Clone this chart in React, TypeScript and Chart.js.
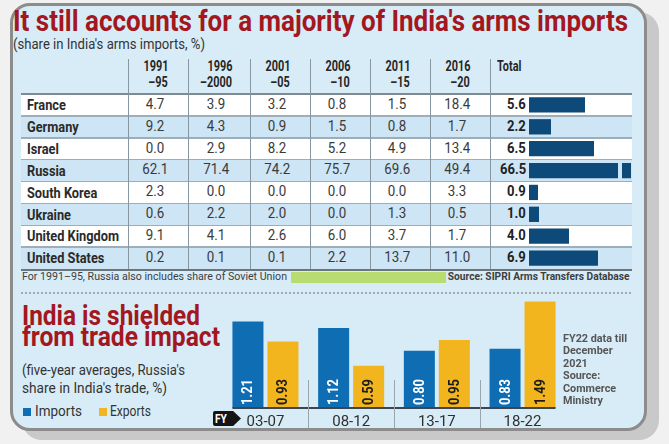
import React, { useEffect, useRef } from 'react';
import { Chart, registerables } from 'chart.js';
Chart.register(...registerables);

// ---------- DATA ----------
const title = "It still accounts for a majority of India's arms imports";
const subtitle = "(share in India's arms imports, %)";
const periodTop = ['1991', '1996', '2001', '2006', '2011', '2016'];
const periodBottom = ['–95', '–2000', '–05', '–10', '–15', '–20'];
const totalLabel = 'Total';
const countries = ['France', 'Germany', 'Israel', 'Russia', 'South Korea', 'Ukraine', 'United Kingdom', 'United States'];
const p1991 = [4.7, 9.2, 0.0, 62.1, 2.3, 0.6, 9.1, 0.2];
const p1996 = [3.9, 4.3, 2.9, 71.4, 0.0, 2.2, 4.1, 0.1];
const p2001 = [3.2, 0.9, 8.2, 74.2, 0.0, 2.0, 2.6, 0.1];
const p2006 = [0.8, 1.5, 5.2, 75.7, 0.0, 0.0, 6.0, 2.2];
const p2011 = [1.5, 0.8, 4.9, 69.6, 0.0, 1.3, 3.7, 13.7];
const p2016 = [18.4, 1.7, 13.4, 49.4, 3.3, 0.5, 1.7, 11.0];
const totals = [5.6, 2.2, 6.5, 66.5, 0.9, 1.0, 4.0, 6.9];
const footNote = 'For 1991–95, Russia also includes share of Soviet Union';
const source1 = 'Source: SIPRI Arms Transfers Database';

const title2 = ['India is shielded', 'from trade impact'];
const sub2 = ["(five-year averages, Russia's", "share in India's trade, %)"];
const fyPeriods = ['03-07', '08-12', '13-17', '18-22'];
const seriesNames = ['Imports', 'Exports'];
const imports = [1.21, 1.12, 0.80, 0.83];
const exportsV = [0.93, 0.59, 0.95, 1.49];
const note = ['FY22 data till', 'December', '2021', 'Source:', 'Commerce', 'Ministry'];

// ---------- STYLE ----------
const FAM = 'Roboto';
const RED = '#a3171f';
const CARD = '#d8ecf7';
const ALT = '#cde5f4';
const NAVY = '#0d4a7a';
const BLUE = '#0f6db3';
const YELLOW = '#f3b51d';

const mcv = typeof document !== 'undefined' ? document.createElement('canvas').getContext('2d') : null;
function mw(t: string, font: string) {
  if (!mcv) return t.length * 7;
  mcv.font = font;
  return mcv.measureText(t).width;
}

type TP = { x: number; y: number; fs: number; bold?: boolean; color?: string; align?: 'left' | 'right' | 'center'; w?: number; sx?: number; text: string };
function T({ x, y, fs, bold, color = '#333', align = 'left', w, sx, text }: TP) {
  const font = `${bold ? 'bold ' : ''}${fs}px ${FAM}`;
  const nat = mw(text, font);
  const s = w ? w / nat : (sx ?? 1);
  const style: any = {
    position: 'absolute', top: y - 0.84 * fs, fontFamily: FAM, fontSize: fs,
    fontWeight: bold ? 700 : 400, color, lineHeight: `${fs}px`, whiteSpace: 'pre',
    width: nat, transform: `scaleX(${s})`,
  };
  if (align === 'left') { style.left = x; style.transformOrigin = 'left center'; }
  else if (align === 'right') { style.left = x - nat; style.transformOrigin = 'right center'; style.textAlign = 'right'; }
  else { style.left = x - nat / 2; style.transformOrigin = 'center center'; style.textAlign = 'center'; }
  return <div style={style}>{text}</div>;
}

const colEdges = [128, 188, 250, 310, 370, 430, 490];
const tableLeft = 21, tableRight = 632, rowTop0 = 94, rowH = 21.875;

export default function App() {
  const totRef = useRef<HTMLCanvasElement>(null);
  const tradeRef = useRef<HTMLCanvasElement>(null);

  useEffect(() => {
    const totMax = 10.2;
    const breakPlugin = {
      id: 'brk',
      afterDatasetsDraw(chart: any) {
        const meta = chart.getDatasetMeta(0);
        const ctx = chart.ctx;
        const r = chart.chartArea.right;
        meta.data.forEach((bar: any, i: number) => {
          if (totals[i] > totMax) {
            ctx.save();
            ctx.fillStyle = i % 2 ? ALT : '#ffffff';
            const h = bar.height;
            ctx.fillRect(r - 13, bar.y - h / 2 - 1, 4, h + 2);
            ctx.restore();
          }
        });
      },
    };
    const c1 = new Chart(totRef.current!, {
      type: 'bar',
      data: { labels: countries, datasets: [{ data: totals, backgroundColor: NAVY, borderWidth: 0, barPercentage: 0.7, categoryPercentage: 1 }] },
      options: {
        indexAxis: 'y', animation: false, responsive: false, maintainAspectRatio: false,
        layout: { padding: { left: 39, right: 1, top: 0, bottom: 0 } },
        plugins: { legend: { display: false }, tooltip: { enabled: false } },
        scales: { x: { display: false, min: 0, max: totMax }, y: { display: false } },
      },
      plugins: [breakPlugin],
    } as any);

    const tradePlugin = {
      id: 'trade',
      afterDatasetsDraw(chart: any) {
        const ctx = chart.ctx;
        const ca = chart.chartArea;
        const xs = chart.scales.x;
        const m0 = chart.getDatasetMeta(0), m1 = chart.getDatasetMeta(1);
        [m0, m1].forEach((meta: any, di: number) => {
          const vals = di === 0 ? imports : exportsV;
          meta.data.forEach((bar: any, i: number) => {
            ctx.save();
            ctx.translate(bar.x, bar.base - 3);
            ctx.rotate(-Math.PI / 2);
            ctx.scale(0.92, 1);
            ctx.font = `bold 14px ${FAM}`;
            ctx.textAlign = 'left';
            ctx.textBaseline = 'middle';
            ctx.fillStyle = di === 0 ? '#ffffff' : '#1c1c1c';
            ctx.fillText(vals[i].toFixed(2), 0, 1);
            ctx.restore();
          });
        });
        const first = m0.data[0], last = m1.data[m1.data.length - 1];
        ctx.save();
        ctx.strokeStyle = '#3b4650';
        ctx.lineWidth = 2;
        ctx.beginPath();
        ctx.moveTo(first.x - first.width / 2, ca.bottom);
        ctx.lineTo(last.x + last.width / 2, ca.bottom);
        ctx.stroke();
        ctx.strokeStyle = '#9aa6ae';
        ctx.lineWidth = 1;
        for (let i = 0; i < fyPeriods.length - 1; i++) {
          const sx = Math.round((xs.getPixelForValue(i) + xs.getPixelForValue(i + 1)) / 2) + 0.5;
          ctx.beginPath();
          ctx.moveTo(sx, ca.bottom - 28);
          ctx.lineTo(sx, ca.bottom + 20);
          ctx.stroke();
        }
        ctx.font = `15px ${FAM}`;
        ctx.fillStyle = '#2f2f2f';
        ctx.textAlign = 'center';
        ctx.textBaseline = 'alphabetic';
        fyPeriods.forEach((p, i) => ctx.fillText(p, xs.getPixelForValue(i), ca.bottom + 18));
        ctx.restore();
      },
    };
    const c2 = new Chart(tradeRef.current!, {
      type: 'bar',
      data: {
        labels: fyPeriods,
        datasets: [
          { label: seriesNames[0], data: imports, backgroundColor: BLUE, borderWidth: 0, barPercentage: 0.886, categoryPercentage: 0.817 },
          { label: seriesNames[1], data: exportsV, backgroundColor: YELLOW, borderWidth: 0, barPercentage: 0.886, categoryPercentage: 0.817 },
        ],
      },
      options: {
        animation: false, responsive: false, maintainAspectRatio: false,
        layout: { padding: { left: 22.6, right: 34.6, top: 10.75, bottom: 32 } },
        plugins: { legend: { display: false }, tooltip: { enabled: false } },
        scales: { x: { display: false }, y: { display: false, min: 0, max: 1.5 } },
      },
      plugins: [tradePlugin],
    } as any);
    return () => { c1.destroy(); c2.destroy(); };
  }, []);

  const labelSX = 92 / mw('United Kingdom', `bold 14px ${FAM}`);
  const headSX = 25 / mw('1991', `bold 15px ${FAM}`);
  const numSX = 0.92;
  const cols = [p1991, p1996, p2001, p2006, p2011, p2016];

  const els: any[] = [];
  countries.forEach((c, i) => {
    const top = rowTop0 + i * rowH;
    els.push(<div key={'bg' + i} style={{ position: 'absolute', left: tableLeft, top, width: tableRight - tableLeft, height: rowH, background: i % 2 ? ALT : '#ffffff' }} />);
    if (i > 0) els.push(<div key={'hl' + i} style={{ position: 'absolute', left: tableLeft, top: top - 0.75, width: tableRight - tableLeft, height: 1.5, background: '#9eaeb8' }} />);
  });
  els.push(<div key="hdrline" style={{ position: 'absolute', left: tableLeft, top: 92.5, width: tableRight - tableLeft, height: 2, background: '#7f8b93' }} />);
  els.push(<div key="botline" style={{ position: 'absolute', left: tableLeft, top: 268.5, width: tableRight - tableLeft, height: 2, background: '#6a767e' }} />);
  colEdges.forEach((x, i) => {
    els.push(<div key={'vl' + i} style={{ position: 'absolute', left: x - 0.5, top: 59, width: 1.2, height: 210, background: '#8797a2' }} />);
  });
  periodTop.forEach((p, i) => {
    const cx = (colEdges[i] + colEdges[i + 1]) / 2;
    const rx = cx + (i === 1 ? 13 : 10);
    els.push(<T key={'ht' + i} x={rx} y={71.5} fs={15} bold color="#262626" align="right" sx={headSX} text={p} />);
    els.push(<T key={'hb' + i} x={rx} y={88} fs={15} bold color="#262626" align="right" sx={headSX} text={periodBottom[i]} />);
  });
  els.push(<T key="htot" x={497} y={71.5} fs={15} bold color="#262626" sx={headSX} text={totalLabel} />);
  countries.forEach((c, i) => {
    const by = rowTop0 + i * rowH + 16;
    els.push(<T key={'c' + i} x={27} y={by} fs={14} bold color="#2a2a2a" sx={labelSX} text={c} />);
    cols.forEach((col, j) => {
      const cx = (colEdges[j] + colEdges[j + 1]) / 2 - 3;
      els.push(<T key={'v' + i + '_' + j} x={cx} y={by} fs={14.5} color="#3a3a3a" align="center" sx={numSX} text={col[i].toFixed(1)} />);
    });
    els.push(<T key={'t' + i} x={526} y={by} fs={14.5} bold color="#1f1f1f" align="right" sx={0.9} text={totals[i].toFixed(1)} />);
  });

  const noteSX = 64 / mw(note[0], `bold 11px ${FAM}`);

  return (
    <div style={{ position: 'absolute', left: 0, top: 0, width: 669, height: 444, background: '#f1f1f1', overflow: 'hidden' }}>
      <div style={{ position: 'absolute', left: 10, top: 3, width: 631, height: 422, background: CARD, border: '3px solid #8c8c8c', borderRadius: 20, boxShadow: '12px 9px 0 #c9c9c9' }} />
      <T x={13} y={31} fs={29} bold color={RED} w={615} text={title} />
      <T x={13} y={50} fs={15} color="#333" w={192} text={subtitle} />
      {els}
      <div style={{ position: 'absolute', left: 490, top: rowTop0, width: 142, height: rowH * 8 }}>
        <canvas ref={totRef} width={142} height={175} style={{ width: 142, height: 175, display: 'block' }} />
      </div>
      <T x={22} y={281} fs={10.5} color="#3e3e3e" w={265} text={footNote} />
      <div style={{ position: 'absolute', left: 291, top: 272, width: 155, height: 10.5, background: '#b9dc72' }} />
      <T x={630} y={281} fs={10.5} bold color="#3e3e3e" align="right" w={182} text={source1} />
      <div style={{ position: 'absolute', left: 21, top: 292, width: 610, height: 0, borderTop: '2px dotted #a3a9ad' }} />

      <T x={22} y={326} fs={27} bold color={RED} w={178} text={title2[0]} />
      <T x={22} y={347} fs={27} bold color={RED} w={198} text={title2[1]} />
      <T x={22} y={376} fs={15.5} color="#333" w={163} text={sub2[0]} />
      <T x={22} y={394} fs={15.5} color="#333" w={145} text={sub2[1]} />
      <div style={{ position: 'absolute', left: 23, top: 408, width: 8, height: 8, background: BLUE }} />
      <T x={35} y={417} fs={15} color="#333" w={47} text={seriesNames[0]} />
      <div style={{ position: 'absolute', left: 99, top: 408, width: 8, height: 8, background: YELLOW }} />
      <T x={110} y={417} fs={15} color="#333" w={41} text={seriesNames[1]} />
      <div style={{ position: 'absolute', left: 213, top: 411, width: 28, height: 15, background: '#141414', clipPath: 'polygon(0 0, 72% 0, 100% 50%, 72% 100%, 0 100%)', borderRadius: 2 }} />
      <T x={215} y={423} fs={12} bold color="#ffffff" sx={0.85} text="FY" />

      <div style={{ position: 'absolute', left: 200, top: 290, width: 400, height: 150 }}>
        <canvas ref={tradeRef} width={400} height={150} style={{ width: 400, height: 150, display: 'block' }} />
      </div>
      {note.map((n, i) => (
        <T key={'n' + i} x={563} y={342 + i * 12.5} fs={11} bold color="#555" sx={noteSX} text={n} />
      ))}
    </div>
  );
}
